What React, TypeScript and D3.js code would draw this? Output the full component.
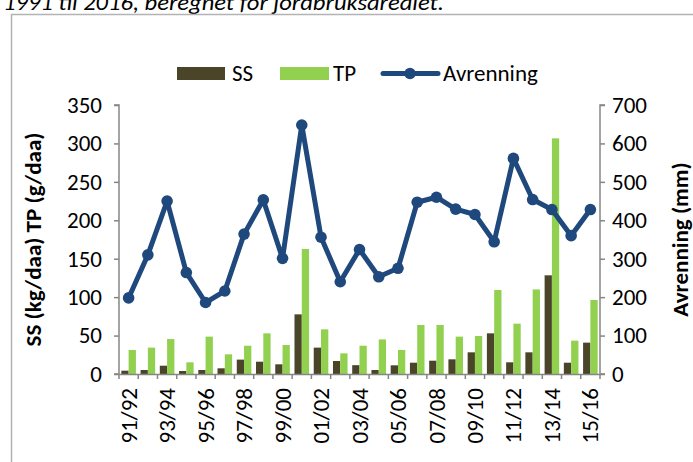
import { useRef, useEffect } from 'react';
import * as d3 from 'd3';

const years = [
  '91/92', '92/93', '93/94', '94/95', '95/96', '96/97', '97/98', '98/99', '99/00', '00/01',
  '01/02', '02/03', '03/04', '04/05', '05/06', '06/07', '07/08', '08/09', '09/10', '10/11',
  '11/12', '12/13', '13/14', '14/15', '15/16',
];
const ss = [4.3, 5.2, 10.8, 3.9, 5.2, 7.4, 18.7, 16, 12.6, 77.6, 34.3, 16.9, 11.5, 5.2, 11.3, 14.7, 17.3, 19.1, 28.2, 52.9, 15.2, 28.2, 128.4, 14.7, 40.8];
const tp = [31.2, 34.3, 45.5, 15.2, 48.6, 25.6, 36.8, 52.9, 37.7, 162.6, 58.1, 26.9, 36.8, 45, 31.2, 63.8, 63.8, 48.6, 49.4, 109.3, 65.5, 110, 306.6, 43.4, 96.3];
const avrenning = [198, 310, 450, 264, 186, 216, 364, 453, 301, 648, 356, 240, 324, 253, 275, 447, 460, 429, 415, 344, 561, 454, 428, 360, 428];
const leftTicks = [0, 50, 100, 150, 200, 250, 300, 350];
const rightTicks = [0, 100, 200, 300, 400, 500, 600, 700];

const FONT = 'Carlito, Lato, sans-serif';
const FS = 23;
const AXIS = '#868686';
const SS_COL = '#4a4429';
const TP_COL = '#92d050';
const LINE_COL = '#1f497d';

const App = () => {
  const svgRef = useRef(null);

  useEffect(() => {
    const w = 693;
    const h = 462;
    const svg = d3.select(svgRef.current).attr('width', w).attr('height', h);
    svg.selectAll('*').remove();

    const left = 119, right = 600, top = 105, bottom = 374;

    // caption (cut at top) and chart frame
    svg.append('text')
      .attr('x', 3).attr('y', 10)
      .attr('font-family', FONT).attr('font-style', 'italic').attr('font-size', FS)
      .attr('textLength', 441).attr('lengthAdjust', 'spacingAndGlyphs')
      .attr('fill', '#000')
      .text('1991 til 2016, beregnet for jordbruksarealet.');
    svg.append('rect')
      .attr('x', 11.5).attr('y', 14.5).attr('width', 720).attr('height', 480)
      .attr('fill', 'none').attr('stroke', '#b3b3b3').attr('stroke-width', 1.5);

    // scales
    const x = d3.scaleBand().domain(years).range([left, right]).padding(0);
    const inner = d3.scaleBand().domain(['SS', 'TP']).range([0, x.bandwidth()])
      .paddingInner(0).paddingOuter(0.32);
    const yL = d3.scaleLinear().domain([0, 350]).range([bottom, top]);
    const yR = d3.scaleLinear().domain([0, 700]).range([bottom, top]);

    // bars
    const g = svg.append('g');
    years.forEach((yr, i) => {
      g.append('rect')
        .attr('x', x(yr) + inner('SS')).attr('width', inner.bandwidth())
        .attr('y', yL(ss[i])).attr('height', yL(0) - yL(ss[i]))
        .attr('fill', SS_COL);
      g.append('rect')
        .attr('x', x(yr) + inner('TP')).attr('width', inner.bandwidth())
        .attr('y', yL(tp[i])).attr('height', yL(0) - yL(tp[i]))
        .attr('fill', TP_COL);
    });

    // axes
    const axisL = svg.append('g').attr('transform', `translate(${left},0)`)
      .call(d3.axisLeft(yL).tickValues(leftTicks).tickSize(5).tickPadding(12));
    const axisR = svg.append('g').attr('transform', `translate(${right},0)`)
      .call(d3.axisRight(yR).tickValues(rightTicks).tickSize(5).tickPadding(7));
    const axisX = svg.append('g').attr('transform', `translate(0,${bottom})`)
      .call(d3.axisBottom(x).tickValues([]).tickSizeOuter(0));
    // category boundary ticks
    const bounds = d3.range(years.length + 1).map(i => left + i * x.step());
    axisX.selectAll('line.b').data(bounds).enter().append('line')
      .attr('x1', d => d).attr('x2', d => d).attr('y1', 0).attr('y2', 5)
      .attr('stroke', AXIS).attr('stroke-width', 1.5);
    axisX.selectAll('text.lab').data(years.filter((_, i) => i % 2 === 0)).enter().append('text')
      .attr('transform', d => `translate(${x(d) + x.bandwidth() / 2},14) rotate(-90)`)
      .attr('text-anchor', 'end').attr('dy', '0.35em')
      .attr('font-family', FONT).attr('font-size', FS).attr('fill', '#000')
      .text(d => d);

    [axisL, axisR, axisX].forEach(a => {
      a.select('.domain').attr('stroke', AXIS).attr('stroke-width', 1.5);
      a.selectAll('.tick line').attr('stroke', AXIS).attr('stroke-width', 1.5);
      a.selectAll('.tick text').attr('font-family', FONT).attr('font-size', FS).attr('fill', '#000');
    });
    axisL.select('.domain').attr('d', `M-5,${bottom}H0V${top}H-5`);
    axisR.select('.domain').attr('d', `M5,${bottom}H0V${top}H5`);

    // line
    const line = d3.line().x((d, i) => x(years[i]) + x.bandwidth() / 2).y(d => yR(d));
    svg.append('path').datum(avrenning)
      .attr('d', line).attr('fill', 'none')
      .attr('stroke', LINE_COL).attr('stroke-width', 5).attr('stroke-linejoin', 'round');
    svg.selectAll('circle.m').data(avrenning).enter().append('circle')
      .attr('cx', (d, i) => x(years[i]) + x.bandwidth() / 2)
      .attr('cy', d => yR(d)).attr('r', 5.8).attr('fill', LINE_COL);

    // axis titles
    svg.append('text')
      .attr('transform', `translate(33,${(top + bottom) / 2}) rotate(-90)`)
      .attr('text-anchor', 'middle').attr('dy', '0.35em')
      .attr('font-family', FONT).attr('font-weight', 'bold').attr('font-size', FS)
      .text('SS (kg/daa) TP (g/daa)');
    svg.append('text')
      .attr('transform', `translate(680,${(top + bottom) / 2}) rotate(-90)`)
      .attr('text-anchor', 'middle').attr('dy', '0.35em')
      .attr('font-family', FONT).attr('font-weight', 'bold').attr('font-size', FS)
      .text('Avrenning (mm)');

    // legend
    const leg = svg.append('g').attr('font-family', FONT).attr('font-size', FS);
    leg.append('rect').attr('x', 177).attr('y', 67).attr('width', 48).attr('height', 13).attr('fill', SS_COL);
    leg.append('text').attr('x', 232).attr('y', 81).text('SS');
    leg.append('rect').attr('x', 280).attr('y', 67).attr('width', 49).attr('height', 13).attr('fill', TP_COL);
    leg.append('text').attr('x', 333).attr('y', 81).text('TP');
    leg.append('line').attr('x1', 383).attr('x2', 438).attr('y1', 73.5).attr('y2', 73.5)
      .attr('stroke', LINE_COL).attr('stroke-width', 5).attr('stroke-linecap', 'round');
    leg.append('circle').attr('cx', 410).attr('cy', 73.5).attr('r', 5.8).attr('fill', LINE_COL);
    leg.append('text').attr('x', 443).attr('y', 81).text('Avrenning');
  }, []);

  return (
    <div style={{ position: 'absolute', left: 0, top: 0 }}>
      <svg ref={svgRef} style={{ display: 'block' }}></svg>
    </div>
  );
};

export default App;
